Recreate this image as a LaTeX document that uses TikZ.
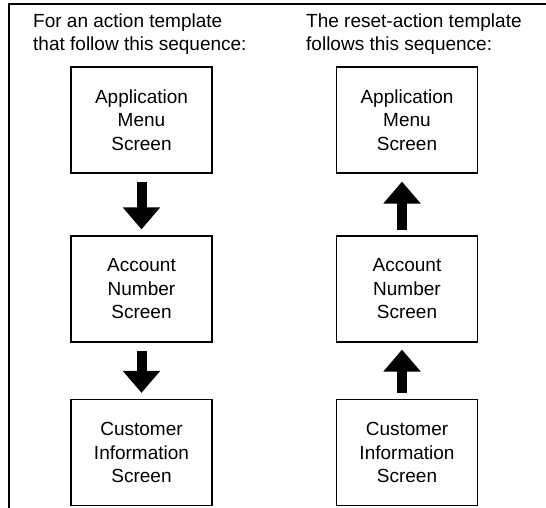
\documentclass[tikz,border=0pt]{standalone}
\usepackage{fontspec}
\setmainfont{Liberation Sans}
\usetikzlibrary{arrows.meta}
\begin{document}
\begin{tikzpicture}[x=1pt,y=-1pt,
  screenbox/.style={draw=black, line width=1.2pt, minimum width=141pt, minimum height=106pt,
    align=center, inner sep=0pt, font=\fontsize{19}{23.5}\selectfont},
  heading/.style={anchor=north west, align=left, inner sep=0pt, font=\fontsize{19}{23}\selectfont},
  blockarrow/.style={line width=10pt, -{Triangle[width=36pt,length=22pt]}}]
\useasboundingbox (0,0) rectangle (546,508);
% frame
\draw[line width=2pt] (546,4.3) -- (9,4.3) -- (9,508);
% headings
\node[heading] (hl) at (33,14) {For an action template\\that follow this sequence:};
\node[heading] (hr) at (306,14) {The reset-action template\\follows this sequence:};
% left column
\node[screenbox] (l1) at (141.5,120) {Application\\Menu\\Screen};
\node[screenbox] (l2) at (141.5,289) {Account\\Number\\Screen};
\node[screenbox] (l3) at (141.5,452.5) {Customer\\Information\\Screen};
% right column
\node[screenbox] (r1) at (407,120) {Application\\Menu\\Screen};
\node[screenbox] (r2) at (407,289) {Account\\Number\\Screen};
\node[screenbox] (r3) at (407,452.5) {Customer\\Information\\Screen};
% arrows
\draw[blockarrow, shorten <=8pt, shorten >=6pt] (l1.south) -- (l2.north);
\draw[blockarrow, shorten <=8pt, shorten >=6pt] (l2.south) -- (l3.north);
\draw[blockarrow, shorten <=5pt, shorten >=8pt] ([xshift=-5pt]r2.north) -- ([xshift=-5pt]r1.south);
\draw[blockarrow, shorten <=6pt, shorten >=7pt] ([xshift=-5pt]r3.north) -- ([xshift=-5pt]r2.south);
\end{tikzpicture}
\end{document}
